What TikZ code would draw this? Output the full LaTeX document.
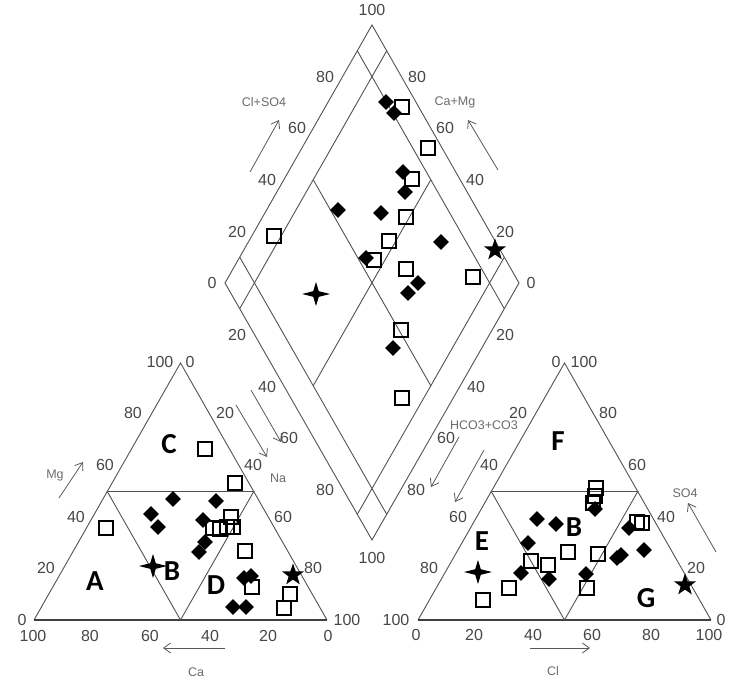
\documentclass[tikz,border=0pt]{standalone}
\usepackage{fontspec}
\setmainfont{Liberation Sans}
\newfontfamily\zonefont{Carlito}
\usetikzlibrary{shapes.geometric,arrows.meta,calc}
\tikzset{
  frame/.style={draw=black!68,line width=0.9pt},
  baseline/.style={draw=black!75,line width=1.4pt},
  tick/.style={text=black!72,inner sep=0pt,font=\fontsize{16}{16}\selectfont},
  axname/.style={text=black!58,inner sep=0pt,font=\fontsize{12.5}{13}\selectfont},
  axarrow/.style={draw=black!65,line width=0.8pt,-{Straight Barb[length=7pt,width=10pt]}},
  zone/.style={inner sep=0pt,font=\zonefont\bfseries\fontsize{29}{29}\selectfont},
  opensq/.style={draw,rectangle,line width=1.7pt,minimum size=14pt,inner sep=0pt},
  soliddia/.style={diamond,fill,minimum size=16pt,inner sep=0pt},
  fivestar/.style={star,star points=5,star point ratio=2.5,fill,minimum size=23pt,inner sep=0pt},
  crossstar/.pic={\fill (-14,0) -- (-2.8,-2.8) -- (0,-12) -- (2.8,-2.8) -- (14,0)
    -- (2.8,2.8) -- (0,12) -- (-2.8,2.8) -- cycle;}
}
\begin{document}
\begin{tikzpicture}[x=1pt,y=-1pt]
\useasboundingbox (0,0) rectangle (752,684);
% cation triangle
\coordinate (ca) at (34,620);
\coordinate (na) at (327,620);
\coordinate (mg) at (180.5,363);
\draw[frame] (na) -- (mg) -- (ca);
\draw[baseline] (ca) -- (na);
\draw[frame] ($(ca)!0.5!(mg)$) -- ($(na)!0.5!(mg)$) -- ($(ca)!0.5!(na)$) -- cycle;
% anion triangle
\coordinate (hc) at (418,620);
\coordinate (cl) at (711,620);
\coordinate (so) at (564.5,363);
\draw[frame] (cl) -- (so) -- (hc);
\draw[baseline] (hc) -- (cl);
\draw[frame] ($(hc)!0.5!(so)$) -- ($(cl)!0.5!(so)$) -- ($(hc)!0.5!(cl)$) -- cycle;
% diamond
\coordinate (T) at (372,25);
\coordinate (L) at (225,283);
\coordinate (B) at (372,540);
\coordinate (R) at (519,283);
\draw[frame] (T) -- (L) -- (B) -- (R) -- cycle;
\draw[frame] ($(T)!0.1!(L)$) -- ($(R)!0.1!(B)$);
\draw[frame] ($(T)!0.1!(R)$) -- ($(L)!0.1!(B)$);
\draw[frame] ($(L)!0.1!(T)$) -- ($(B)!0.1!(R)$);
\draw[frame] ($(R)!0.1!(T)$) -- ($(B)!0.1!(L)$);
\coordinate (Ti) at ($(T)!0.1!(B)$);
\coordinate (Bi) at ($(B)!0.1!(T)$);
\coordinate (Li) at ($(L)!0.1!(R)$);
\coordinate (Ri) at ($(R)!0.1!(L)$);
\draw[frame] ($(Ti)!0.5!(Li)$) -- ($(Ri)!0.5!(Bi)$);
\draw[frame] ($(Ti)!0.5!(Ri)$) -- ($(Li)!0.5!(Bi)$);

% scale numbers
\foreach \x/\y/\t [count=\i] in {160/362/100,190/362/0,133/413/80,105/465/60,76/517/40,
    46/568/20,22/620/0,225/413/20,253/465/40,283/517/60,313/568/80,347/620/100,
    33/636/100,90/636/80,150/636/60,210/636/40,268/636/20,328/636/0}
  \node[tick] (lt\i) at (\x,\y) {\t};
\foreach \x/\y/\t [count=\i] in {556/362/0,584/362/100,518/413/20,489/465/40,458/517/60,
    429/568/80,396/620/100,608/413/80,637/465/60,666/517/40,696/568/20,721/620/0,
    416/635/0,474/635/20,533/635/40,592/635/60,651/635/80,709/635/100}
  \node[tick] (rt\i) at (\x,\y) {\t};
\foreach \x/\y/\t [count=\i] in {372/10/100,325/77/80,297/128/60,267/180/40,237/232/20,
    212/283/0,237/335/20,267/387/40,289/438/60,325/490/80,372/558/100,417/77/80,
    445/128/60,475/180/40,505/232/20,531/283/0,505/335/20,476/387/40,446/438/60,416/490/80}
  \node[tick] (dt\i) at (\x,\y) {\t};

% axis names and arrows
\node[axname] (mgname) at (55,475) {Mg};
\draw[axarrow] (59,498) -- (83,462);
\node[axname] (naname) at (278,478) {Na};
\draw[axarrow] (236,405) -- (267,457);
\draw[axarrow] (251,390) -- (281,442);
\node[axname] (caname) at (196,672) {Ca};
\draw[axarrow] (225,648) -- (163,648);
\node[axname] (clso) at (264,102) {Cl+SO4};
\draw[axarrow] (250,172) -- (279,120);
\node[axname] (camg) at (455,102) {Ca+Mg};
\draw[axarrow] (498,170) -- (468,120);
\node[axname] (hcco) at (484,425) {HCO3+CO3};
\draw[axarrow] (459,437) -- (431,487);
\draw[axarrow] (484,450) -- (455,502);
\node[axname] (soname) at (685,493) {SO4};
\draw[axarrow] (716,552) -- (688,503);
\node[axname] (clname) at (553,671) {Cl};
\draw[axarrow] (530,648) -- (590,648);

% zone letters
\node[zone] (zA) at (95,581) {A};
\node[zone] (zB) at (172,571) {B};
\node[zone] (zC) at (169,444) {C};
\node[zone] (zD) at (216,585) {D};
\node[zone] (zE) at (482,541) {E};
\node[zone] (zB2) at (574,527) {B};
\node[zone] (zF) at (558,441) {F};
\node[zone] (zG) at (646,598) {G};

% samples
\foreach \x/\y [count=\i] in {205/449,235/483,106/528,231/517,213/528,220/529,227/527,
    233/527,245/551,252/587,290/594,284/608,
    596/488,595/496,593/503,637/522,642/523,568/552,598/554,531/561,548/565,509/588,
    587/588,483/600,
    402/107,428/148,412/179,406/217,389/241,374/260,406/269,473/277,274/236,401/330,402/398}
  \node[opensq] (sq\i) at (\x,\y) {};
\foreach \x/\y [count=\i] in {173/499,216/501,151/514,158/527,203/520,205/542,199/552,
    244/578,251/576,233/607,246/607,
    595/509,537/519,556/524,629/528,528/543,644/550,617/558,621/555,521/573,549/579,586/574,
    386/102,394/113,403/172,405/192,338/210,381/213,441/242,366/258,418/283,408/293,393/348}
  \node[soliddia] (dm\i) at (\x,\y) {};
\pic at (153,566) {crossstar};
\pic at (478,572) {crossstar};
\pic at (316,294) {crossstar};
\node[fivestar] (st1) at (293,575) {};
\node[fivestar] (st2) at (685,585) {};
\node[fivestar] (st3) at (495,250) {};
\end{tikzpicture}
\end{document}
